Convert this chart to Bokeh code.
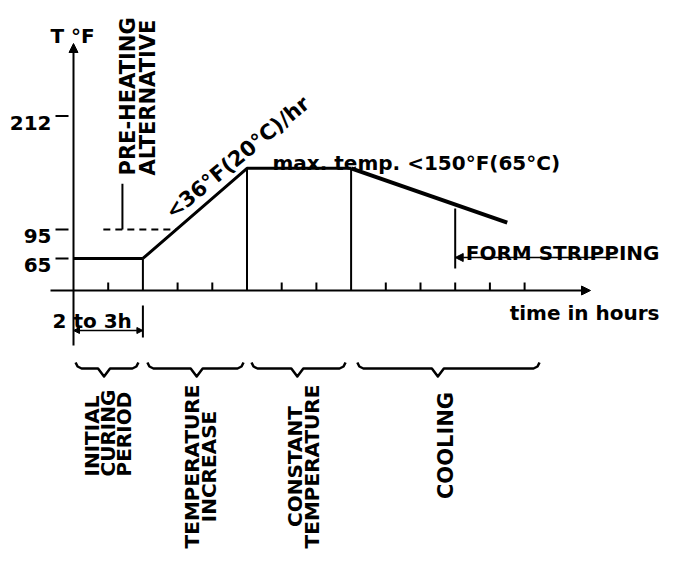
import numpy as np
from bokeh.plotting import figure
from bokeh.models import Arrow, NormalHead
from bokeh.core.properties import value
from bokeh.embed import file_html
from bokeh.resources import INLINE

# ---------------- data (hours, deg F) ----------------
profile_hours = [0, 2, 5, 8, 12.5]
profile_temp = [65, 65, 158, 158, 102]
ytick_values = [65, 95, 212]
ytick_labels = ["65", "95", "212"]
xtick_hours = [1, 3, 4, 6, 7, 9, 10, 11, 12, 13]
axis_temp = 32
preheat_hours = [0.86, 2.97]
preheat_temp = [95, 95]
preheat_marker_hour = 1.41
preheat_marker_top = 142
form_strip_hour = 11
dimension_hours = [0, 2]
phase_start = [0.06, 2.13, 5.13, 8.18]
phase_end = [1.87, 4.90, 7.84, 13.43]
brace_tip = [0.88, 3.55, 6.45, 10.5]
phase_labels = [["INITIAL", "CURING", "PERIOD"],
                ["TEMPERATURE", "INCREASE"],
                ["CONSTANT", "TEMPERATURE"],
                ["COOLING"]]
phase_label_center = [0.79, 3.44, 6.41, 10.53]
slope_label = "<36°F(20°C)/hr"
plateau_label = "max. temp. <150°F(65°C)"

# ---------------- scale helpers (px per unit) ----------------
W, H = 662, 550
SX = 34.7   # px per hour
SY = 0.97   # px per deg F
X0PX, Y0PX = 73, 290   # pixel position of origin (0 h, 32 F)


def hx(px):
    return (px - X0PX) / SX


def ty(py):
    return axis_temp + (Y0PX - py) / SY


def dh(px):
    return px / SX


def dt(px):
    return px / SY


FONT = value("DejaVu Sans")
p = figure(width=W, height=H, x_range=(hx(0), hx(W)), y_range=(ty(H), ty(0)),
           x_axis_type=None, y_axis_type=None, toolbar_location=None,
           output_backend="svg", min_border=0, outline_line_color=None,
           background_fill_color="white", border_fill_color="white")

K = "black"


def txt(x, y, t, size="20px", angle=0.0, align="left", baseline="alphabetic"):
    p.text(x=x, y=y, text=t, angle=angle, text_font=FONT, text_font_style="bold",
           text_font_size=size, text_align=align, text_baseline=baseline, text_color=K)


# ---------------- axes ----------------
p.add_layout(Arrow(end=NormalHead(size=9, fill_color=K, line_color=K, line_width=1),
                   x_start=0, y_start=ty(345), x_end=0, y_end=ty(43), line_width=2, line_color=K))
p.add_layout(Arrow(end=NormalHead(size=9, fill_color=K, line_color=K, line_width=1),
                   x_start=hx(50), y_start=axis_temp, x_end=hx(590), y_end=axis_temp,
                   line_width=2, line_color=K))
# x ticks
p.segment(x0=xtick_hours, y0=[axis_temp] * len(xtick_hours), x1=xtick_hours,
          y1=[axis_temp + dt(8)] * len(xtick_hours), line_width=2, line_color=K)
# y ticks (detached dashes) and labels
p.segment(x0=[-dh(18)] * 3, y0=ytick_values, x1=[-dh(5)] * 3, y1=ytick_values,
          line_width=2, line_color=K)
txt([-dh(22)] * 3, [v - dt(7) for v in ytick_values], ytick_labels, align="right")
txt([hx(50)], [ty(35)], ["T °F"])

# ---------------- temperature profile ----------------
p.line(profile_hours[:2], profile_temp[:2], line_width=3, line_color=K)
p.line(profile_hours[1:4], profile_temp[1:4], line_width=3, line_color=K, line_join="round")
p.line(profile_hours[3:], profile_temp[3:], line_width=4, line_color=K, line_join="round")
# phase boundary verticals
p.segment(x0=profile_hours[1:4], y0=profile_temp[1:4], x1=profile_hours[1:4],
          y1=[axis_temp] * 3, line_width=2, line_color=K)

# pre-heating alternative
p.line(preheat_hours, preheat_temp, line_width=2, line_color=K, line_dash="7 5")
p.segment(x0=[preheat_marker_hour], y0=[preheat_temp[0]], x1=[preheat_marker_hour],
          y1=[preheat_marker_top], line_width=2, line_color=K)
txt([hx(127), hx(147)], [ty(175)] * 2, ["PRE-HEATING", "ALTERNATIVE"], size="21px",
    angle=np.pi / 2)

# slope and plateau labels
txt([hx(168)], [ty(214)], [slope_label], size="21px", angle=np.radians(39.5))
txt([hx(272)], [ty(162)], [plateau_label])

# form stripping
strip_top = float(np.interp(form_strip_hour, profile_hours, profile_temp)) - dt(4)
p.segment(x0=[form_strip_hour], y0=[strip_top], x1=[form_strip_hour],
          y1=[axis_temp + dt(22)], line_width=2, line_color=K)
p.add_layout(Arrow(end=NormalHead(size=8, fill_color=K, line_color=K, line_width=1),
                   x_start=hx(617), y_start=ty(257), x_end=form_strip_hour, y_end=ty(257),
                   line_width=1.5, line_color=K))
txt([hx(659)], [ty(252)], ["FORM STRIPPING"], align="right")
txt([hx(659)], [ty(312)], ["time in hours"], align="right")

# 2 to 3h dimension
p.segment(x0=[dimension_hours[1]], y0=[ty(305)], x1=[dimension_hours[1]], y1=[ty(337)],
          line_width=2, line_color=K)
p.add_layout(Arrow(start=NormalHead(size=6, fill_color=K, line_color=K, line_width=1),
                   end=NormalHead(size=6, fill_color=K, line_color=K, line_width=1),
                   x_start=dimension_hours[0], y_start=ty(330), x_end=dimension_hours[1],
                   y_end=ty(330), line_width=1.5, line_color=K))
txt([hx(52)], [ty(320)], ["2 to 3h"])

# ---------------- braces and phase labels ----------------
bx, by = [], []
for a, b, tip in zip(phase_start, phase_end, brace_tip):
    xs = [a, a + dh(2), a + dh(6), tip - dh(6), tip, tip + dh(6), b - dh(6), b - dh(2), b]
    ys = [ty(362), ty(366), ty(368), ty(368), ty(376), ty(368), ty(368), ty(366), ty(362)]
    bx.append(xs)
    by.append(ys)
p.multi_line(bx, by, line_width=2.5, line_color=K, line_join="round")

label_align = ["left", "center", "center", "center"]
label_y = [476, 466, 466, 445]
label_size = ["20px", "20px", "20px", "21px"]
label_step = [16, 17.5, 17.5, 17.5]
cap = 15.0
for lines, c, al, yy, sz, sp in zip(phase_labels, phase_label_center, label_align,
                                     label_y, label_size, label_step):
    n = len(lines)
    w = (n - 1) * sp + cap
    cpx = X0PX + c * SX
    xs = [hx(cpx - w / 2 + i * sp + cap) for i in range(n)]
    txt(xs, [ty(yy)] * n, lines, size=sz, angle=np.pi / 2, align=al)

open("out.html", "w").write(file_html(p, INLINE))
